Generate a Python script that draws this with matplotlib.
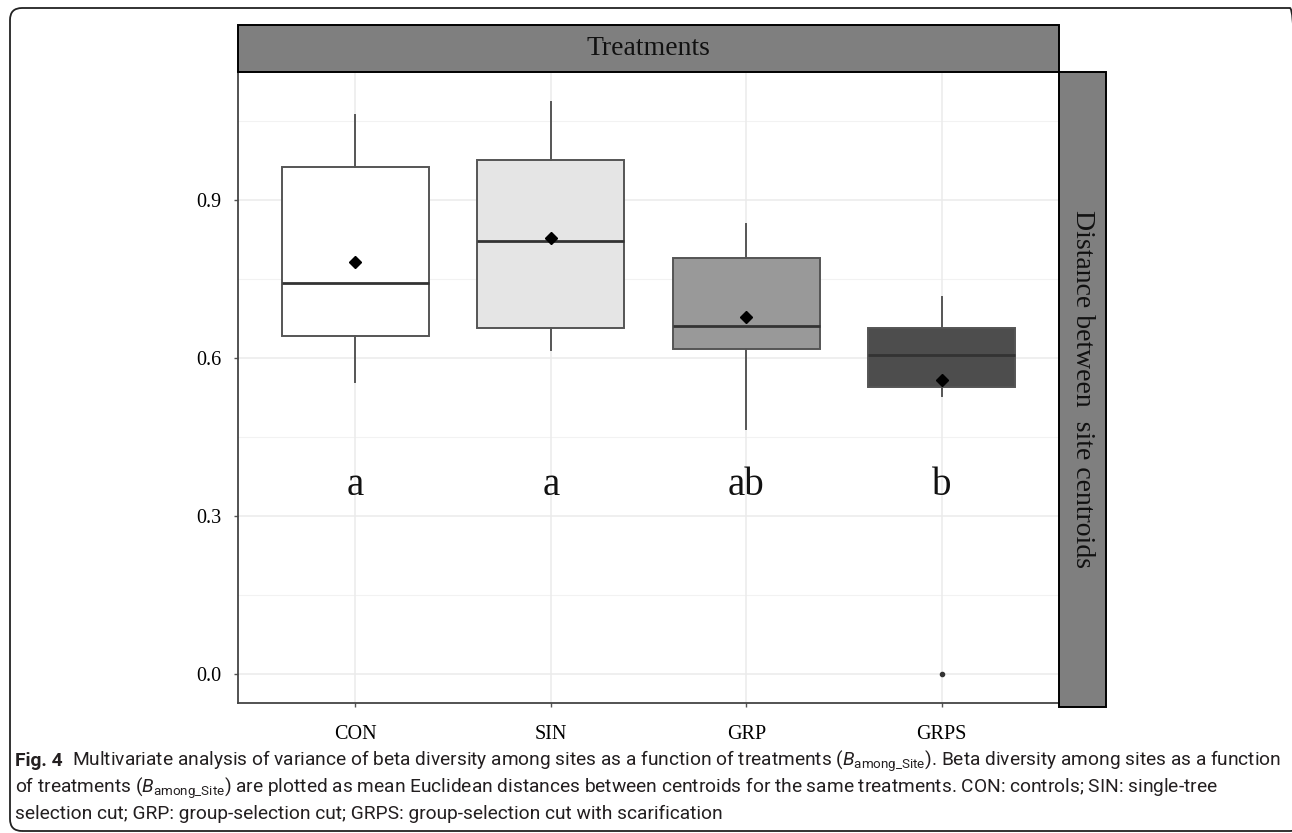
import matplotlib
matplotlib.use("Agg")
import matplotlib.pyplot as plt
from matplotlib import font_manager
from matplotlib.patches import Rectangle, FancyBboxPatch
from matplotlib.transforms import IdentityTransform
import numpy as np

# ---------------- data ----------------
categories = ["CON", "SIN", "GRP", "GRPS"]
whislo = [0.554, 0.616, 0.465, 0.528]
q1 = [0.642, 0.658, 0.618, 0.545]
med = [0.743, 0.822, 0.662, 0.606]
q3 = [0.964, 0.977, 0.790, 0.658]
whishi = [1.061, 1.086, 0.855, 0.716]
means = [0.783, 0.829, 0.679, 0.558]
outliers = [[], [], [], [0.0]]
letters = ["a", "a", "ab", "b"]
letter_y = 0.341
fills = ["#ffffff", "#e5e5e5", "#999999", "#4d4d4d"]
yticks = [0.0, 0.3, 0.6, 0.9]
ytick_labels = ["0.0", "0.3", "0.6", "0.9"]
minor_y = [0.15, 0.45, 0.75, 1.05]

W, H = 1292, 833
fig = plt.figure(figsize=(W / 100, H / 100), dpi=100)

def fx(x):
    return x / W

def fy(y):
    return 1 - y / H

serif = ["Liberation Serif", "DejaVu Serif"]
names = {f.name for f in font_manager.fontManager.ttflist}
cap_font = "Roboto" if "Roboto" in names else "Open Sans"

# ---------------- axes ----------------
L, R, T, B = 238, 1059, 72, 703
ax = fig.add_axes([fx(L), fy(B), (R - L) / W, (B - T) / H])
ax.set_xlim(0.4, 4.6)
ax.set_ylim(-0.0545, 1.1435)

for y in yticks:
    ax.axhline(y, color="#ebebeb", lw=1.1, zorder=0)
for y in minor_y:
    ax.axhline(y, color="#f2f2f2", lw=0.8, zorder=0)
for i in range(len(categories)):
    ax.axvline(i + 1, color="#ebebeb", lw=1.1, zorder=0)

stats = []
for i, c in enumerate(categories):
    stats.append(dict(label=c, whislo=whislo[i], q1=q1[i], med=med[i],
                      q3=q3[i], whishi=whishi[i], fliers=outliers[i]))

bp = ax.bxp(stats, positions=np.arange(1, len(categories) + 1), widths=0.75,
            patch_artist=True, showcaps=False,
            boxprops=dict(edgecolor="#555555", linewidth=1.4),
            whiskerprops=dict(color="#555555", linewidth=1.4),
            medianprops=dict(color="#333333", linewidth=2.0),
            flierprops=dict(marker="o", markersize=3, markerfacecolor="#333333",
                            markeredgecolor="#333333"),
            zorder=2)
for patch, f in zip(bp["boxes"], fills):
    patch.set_facecolor(f)

ax.plot(np.arange(1, len(categories) + 1), means, linestyle="none", marker="D",
        markersize=6.5, color="black", zorder=4)

for i, t in enumerate(letters):
    ax.text(i + 1, letter_y, t, ha="center", va="baseline", fontsize=28,
            family=serif, color="#111111")

ax.set_yticks(yticks)
ax.set_yticklabels(ytick_labels, family=serif, fontsize=14.5)
ax.set_xticks(np.arange(1, len(categories) + 1))
ax.set_xticklabels(categories, family=serif, fontsize=14.5)
ax.tick_params(axis="y", length=3, width=1, color="#555555", pad=9)
ax.tick_params(axis="x", length=3, width=1, color="#555555", pad=13)
for s in ["top", "right"]:
    ax.spines[s].set_visible(False)
for s in ["left", "bottom"]:
    ax.spines[s].set_color("#444444")
    ax.spines[s].set_linewidth(1.3)

# ---------------- strips ----------------
fig.patches.append(Rectangle((fx(L), fy(T)), (R - L) / W, (T - 25) / H,
                             transform=fig.transFigure, facecolor="#7f7f7f",
                             edgecolor="black", linewidth=1.4, zorder=5))
fig.text(fx((L + R) / 2), fy(48.5), "Treatments", ha="center", va="center",
         fontsize=20, family=serif, color="#111111", zorder=10)
fig.patches.append(Rectangle((fx(R), fy(B + 4)), (1106 - R) / W, (B + 4 - T) / H,
                             transform=fig.transFigure, facecolor="#7f7f7f",
                             edgecolor="black", linewidth=1.4, zorder=5))
fig.text(fx(1082.5), fy((T + B) / 2 + 2), "Distance between  site centroids",
         ha="center", va="center", rotation=270, fontsize=20, family=serif,
         color="#111111", zorder=10)

# ---------------- frame (pixel coordinates, origin bottom-left) ----------------
fig.patches.append(FancyBboxPatch((10, H - 831), 1302 - 10, 831 - 8,
                                  boxstyle="round,pad=0,rounding_size=12",
                                  transform=IdentityTransform(), facecolor="none",
                                  edgecolor="#222222", linewidth=1.3, zorder=1))

# ---------------- caption ----------------
plt.rcParams["mathtext.fontset"] = "custom"
plt.rcParams["mathtext.rm"] = cap_font
plt.rcParams["mathtext.it"] = cap_font + ":italic"
Bsym = r"($\mathit{B}_{\mathrm{among\_Site}}$)"
line1 = ("Multivariate analysis of variance of beta diversity among sites as a function "
         "of treatments " + Bsym + ". Beta diversity among sites as a function")
line2 = ("of treatments " + Bsym + " are plotted as mean Euclidean distances between "
         "centroids for the same treatments. CON: controls; SIN: single-tree")
line3 = "selection cut; GRP: group-selection cut; GRPS: group-selection cut with scarification"

fs = 13
renderer = fig.canvas.get_renderer()
t1 = fig.text(fx(72), fy(761), line1, ha="left", va="center", fontsize=fs,
              family=cap_font, color="#231f20")
w = t1.get_window_extent(renderer).width
fs = fs * (1276 - 72) / w
t1.set_fontsize(fs)
fig.text(fx(15), fy(761), "Fig. 4", ha="left", va="center", fontsize=fs,
         family=cap_font, weight="bold", color="#231f20")
fig.text(fx(15), fy(788), line2, ha="left", va="center", fontsize=fs,
         family=cap_font, color="#231f20")
fig.text(fx(15), fy(814), line3, ha="left", va="center", fontsize=fs,
         family=cap_font, color="#231f20")

fig.savefig("out.png", dpi=100)
